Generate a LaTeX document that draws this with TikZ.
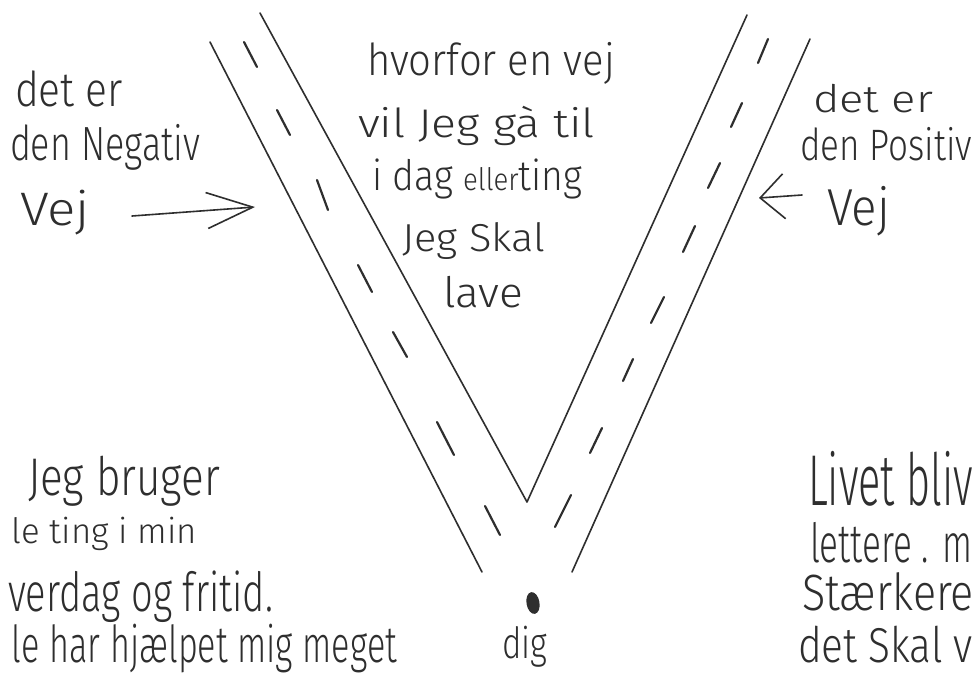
\documentclass[tikz,border=0pt]{standalone}
\usepackage{fontspec}
\setmainfont{Fira Sans}[UprightFont={* Light}]
\usetikzlibrary{arrows.meta}
\definecolor{pencil}{HTML}{2E2E2E}
\newcommand{\hw}[3]{{\fontsize{#1}{#1}\selectfont\resizebox{#2pt}{\height}{#3}}}
\begin{document}
\begin{tikzpicture}[x=1pt,y=-1pt,
  txt/.style={anchor=base west,inner sep=0pt,outer sep=0pt,text=pencil},
  edge/.style={draw=pencil,line width=1.6pt,line cap=round,line join=round},
  lane/.style={draw=pencil,line width=2.2pt,line cap=round},
  pointer/.style={draw=pencil,line width=1.6pt,line cap=round,line join=round}]
\useasboundingbox (0,0) rectangle (980,681);
\clip (0,0) rectangle (980,681);
\fill[white] (0,0) rectangle (980,681);

% road edges
\coordinate (lo1) at (210,42);  \coordinate (lo2) at (482,572);
\coordinate (li1) at (260,13);  \coordinate (apex) at (527,502);
\coordinate (ri1) at (747,15);
\coordinate (ro1) at (810,39);  \coordinate (ro2) at (572,572);
\draw[edge] (lo1) -- (lo2);
\draw[edge] (li1) -- (apex) -- (ri1);
\draw[edge] (ro1) -- (ro2);

% centre lines, left road
\foreach \a/\b/\c/\d in {244/42/257/67, 277/110/290/135, 317/180/328/210,
  358/265/372/292, 393/332/407/357, 437/422/454/455, 485/506/500/535}
  \draw[lane] (\a,\b) -- (\c,\d);
% centre lines, right road
\foreach \a/\b/\c/\d in {768/39/758/63, 742/103/731/127, 720/163/708/188,
  695/226/683/252, 664/297/651/323, 633/359/623/381, 602/428/590/453, 571/495/555/527}
  \draw[lane] (\a,\b) -- (\c,\d);

% top left
\node[txt] (detL) at (15,106) {\hw{48}{108}{det er}};
\node[txt] (negL) at (10,160) {\hw{48}{190}{den Negativ}};
\node[txt] (vejL) at (20,225) {\hw{47}{70}{Vej}};
\coordinate (aL1) at (132,216);
\coordinate (aL2) at (255,207);
\draw[pointer,-{Straight Barb[length=46pt,width=36pt,line width=1.6pt]}] (aL1) -- (aL2);

% centre
\node[txt] (c1) at (367,75)  {\hw{44}{248}{hvorfor en vej}};
\node[txt] (c2) at (358,137) {\hw{40}{237}{vil Jeg gà til}};
\node[txt] (c3) at (372,190) {\hw{42}{210}{i dag {\fontsize{31}{31}\selectfont eller}ting}};
\node[txt] (c4) at (402,251) {\hw{39}{143}{Jeg Skal}};
\node[txt] (c5) at (443,307) {\hw{42}{80}{lave}};

% top right
\node[txt] (detR) at (813,112) {\hw{38}{120}{det er}};
\node[txt] (posR) at (800,160) {\hw{44}{172}{den Positiv}};
\node[txt] (vejR) at (827,225) {\hw{52}{63}{Vej}};
\coordinate (aR1) at (802,195);
\coordinate (aR2) at (759,198);
\draw[pointer,-{Straight Barb[length=24pt,width=45pt,line width=1.6pt]}] (aR1) -- (aR2);

% bottom left
\node[txt] (b1) at (28,495)  {\hw{53}{192}{Jeg bruger}};
\node[txt] (b2) at (12,543)  {\hw{35}{185}{le ting i min}};
\node[txt] (b3) at (8,611)   {\hw{54}{265}{verdag og fritid.}};
\node[txt] (b4) at (12,662)  {\hw{51}{385}{le har hjælpet mig meget}};

% bottom right
\node[txt] (r1) at (808,505) {\hw{72}{165}{Livet bliv}};
\node[txt] (r2) at (810,562) {\hw{54}{162}{lettere . m}};
\node[txt] (r3) at (802,610) {\hw{51}{172}{Stærkere}};
\node[txt] (r4) at (798,662) {\hw{49}{175}{det Skal v}};

% you
\fill[pencil,rotate around={10:(533,603)}] (533,603) ellipse [x radius=6.5pt, y radius=11pt];
\node[txt] (dig) at (502,658) {\hw{43}{45}{dig}};
\end{tikzpicture}
\end{document}
